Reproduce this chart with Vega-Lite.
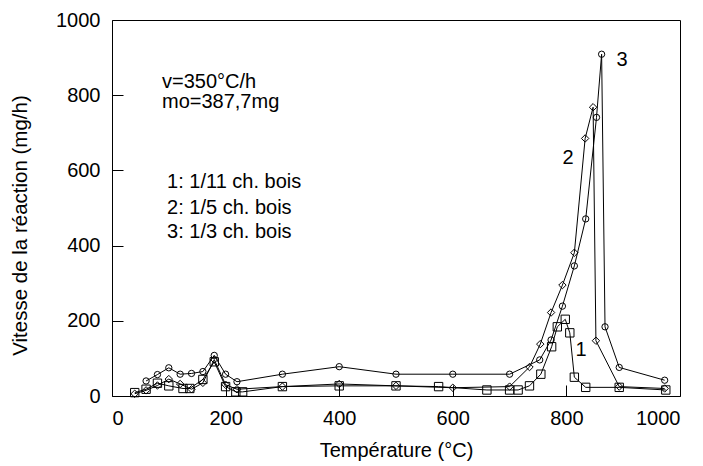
{
  "$schema": "https://vega.github.io/schema/vega-lite/v6.json",
  "width": 568,
  "height": 376,
  "autosize": {"type": "none"},
  "padding": {"left": 112, "top": 20, "right": 23, "bottom": 70},
  "background": "white",
  "config": {
    "font": "Liberation Sans",
    "view": {"stroke": "black", "strokeWidth": 1},
    "axis": {
      "grid": false,
      "domainColor": "black",
      "tickColor": "black",
      "labelColor": "black",
      "titleColor": "black",
      "labelFontSize": 20,
      "titleFontSize": 20,
      "titleFontWeight": "normal",
      "labelFont": "Liberation Sans",
      "titleFont": "Liberation Sans"
    }
  },
  "datasets": {
    "series": [
      {"courbe": "1", "t": 40, "v": 9},
      {"courbe": "1", "t": 60, "v": 18},
      {"courbe": "1", "t": 80, "v": 34},
      {"courbe": "1", "t": 100, "v": 27},
      {"courbe": "1", "t": 125, "v": 20},
      {"courbe": "1", "t": 137, "v": 20},
      {"courbe": "1", "t": 160, "v": 44},
      {"courbe": "1", "t": 180, "v": 91},
      {"courbe": "1", "t": 200, "v": 25},
      {"courbe": "1", "t": 218, "v": 11},
      {"courbe": "1", "t": 230, "v": 11},
      {"courbe": "1", "t": 300, "v": 25},
      {"courbe": "1", "t": 400, "v": 27},
      {"courbe": "1", "t": 500, "v": 27},
      {"courbe": "1", "t": 575, "v": 25},
      {"courbe": "1", "t": 660, "v": 16},
      {"courbe": "1", "t": 700, "v": 16},
      {"courbe": "1", "t": 715, "v": 16},
      {"courbe": "1", "t": 735, "v": 27},
      {"courbe": "1", "t": 755, "v": 58},
      {"courbe": "1", "t": 774, "v": 131},
      {"courbe": "1", "t": 784, "v": 184},
      {"courbe": "1", "t": 798, "v": 204},
      {"courbe": "1", "t": 806, "v": 168},
      {"courbe": "1", "t": 814, "v": 50},
      {"courbe": "1", "t": 834, "v": 23},
      {"courbe": "1", "t": 893, "v": 23},
      {"courbe": "1", "t": 975, "v": 16},
      {"courbe": "2", "t": 40, "v": 6},
      {"courbe": "2", "t": 60, "v": 15},
      {"courbe": "2", "t": 80, "v": 28},
      {"courbe": "2", "t": 100, "v": 45},
      {"courbe": "2", "t": 120, "v": 32},
      {"courbe": "2", "t": 140, "v": 18},
      {"courbe": "2", "t": 160, "v": 35},
      {"courbe": "2", "t": 180, "v": 97},
      {"courbe": "2", "t": 200, "v": 30},
      {"courbe": "2", "t": 220, "v": 18},
      {"courbe": "2", "t": 300, "v": 25},
      {"courbe": "2", "t": 400, "v": 32},
      {"courbe": "2", "t": 500, "v": 27},
      {"courbe": "2", "t": 600, "v": 22},
      {"courbe": "2", "t": 700, "v": 25},
      {"courbe": "2", "t": 735, "v": 77},
      {"courbe": "2", "t": 754, "v": 138},
      {"courbe": "2", "t": 773, "v": 222},
      {"courbe": "2", "t": 793, "v": 295},
      {"courbe": "2", "t": 814, "v": 381},
      {"courbe": "2", "t": 833, "v": 685},
      {"courbe": "2", "t": 847, "v": 768},
      {"courbe": "2", "t": 852, "v": 147},
      {"courbe": "2", "t": 893, "v": 25},
      {"courbe": "2", "t": 973, "v": 20},
      {"courbe": "3", "t": 60, "v": 40},
      {"courbe": "3", "t": 80, "v": 57},
      {"courbe": "3", "t": 100, "v": 75},
      {"courbe": "3", "t": 120, "v": 58},
      {"courbe": "3", "t": 140, "v": 60},
      {"courbe": "3", "t": 160, "v": 65},
      {"courbe": "3", "t": 180, "v": 108},
      {"courbe": "3", "t": 200, "v": 58},
      {"courbe": "3", "t": 220, "v": 38},
      {"courbe": "3", "t": 300, "v": 58},
      {"courbe": "3", "t": 400, "v": 78},
      {"courbe": "3", "t": 500, "v": 58},
      {"courbe": "3", "t": 600, "v": 58},
      {"courbe": "3", "t": 700, "v": 58},
      {"courbe": "3", "t": 753, "v": 96},
      {"courbe": "3", "t": 773, "v": 149},
      {"courbe": "3", "t": 793, "v": 239},
      {"courbe": "3", "t": 814, "v": 346},
      {"courbe": "3", "t": 834, "v": 471},
      {"courbe": "3", "t": 853, "v": 741},
      {"courbe": "3", "t": 862, "v": 909},
      {"courbe": "3", "t": 868, "v": 184},
      {"courbe": "3", "t": 893, "v": 76},
      {"courbe": "3", "t": 973, "v": 42}
    ],
    "notes": [
      {"t": 88, "v": 835, "texte": "v=350°C/h"},
      {"t": 88, "v": 782, "texte": "mo=387,7mg"},
      {"t": 97, "v": 569, "texte": "1: 1/11 ch. bois"},
      {"t": 97, "v": 500, "texte": "2: 1/5 ch. bois"},
      {"t": 97, "v": 436, "texte": "3: 1/3 ch. bois"},
      {"t": 816, "v": 122, "texte": "1"},
      {"t": 793, "v": 633, "texte": "2"},
      {"t": 888, "v": 894, "texte": "3"}
    ]
  },
  "resolve": {"axis": {"x": "independent", "y": "independent"}},
  "layer": [
    {
      "data": {"name": "series"},
      "mark": {"type": "line", "color": "black", "strokeWidth": 1},
      "encoding": {
        "x": {
          "field": "t",
          "type": "quantitative",
          "scale": {"domain": [0, 1000], "nice": false},
          "axis": {"orient": "bottom", "title": "Température (°C)", "values": [0, 200, 400, 600, 800, 1000], "format": "d", "ticks": false, "labelPadding": 12, "titlePadding": 12}
        },
        "y": {
          "field": "v",
          "type": "quantitative",
          "scale": {"domain": [0, 1000], "nice": false},
          "axis": {"orient": "left", "title": "Vitesse de la réaction (mg/h)", "values": [0, 200, 400, 600, 800, 1000], "format": "d", "ticks": false, "labelPadding": 12, "titleX": -92, "titleY": 205, "titleBaseline": "middle", "titleFontSize": 20.5}
        },
        "detail": {"field": "courbe"}
      }
    },
    {
      "data": {"name": "series"},
      "mark": {"type": "point", "filled": false, "color": "black", "strokeWidth": 1, "opacity": 1},
      "encoding": {
        "x": {
          "field": "t",
          "type": "quantitative",
          "axis": {"orient": "bottom", "offset": -11, "title": null, "labels": false, "domain": false, "ticks": true, "tickSize": 11, "tickWidth": 1, "values": [200, 400, 600, 800]}
        },
        "y": {
          "field": "v",
          "type": "quantitative",
          "axis": {"orient": "left", "offset": -11, "title": null, "labels": false, "domain": false, "ticks": true, "tickSize": 11, "tickWidth": 1, "values": [200, 400, 600, 800]}
        },
        "shape": {"field": "courbe", "type": "nominal", "scale": {"domain": ["1", "2", "3"], "range": ["square", "diamond", "circle"]}, "legend": null},
        "size": {"field": "courbe", "type": "ordinal", "scale": {"domain": ["1", "2", "3"], "range": [70, 40, 70]}, "legend": null}
      }
    },
    {
      "data": {"name": "notes"},
      "mark": {"type": "text", "align": "left", "baseline": "middle", "fontSize": 20, "font": "Liberation Sans", "color": "black"},
      "encoding": {
        "x": {"field": "t", "type": "quantitative", "axis": null},
        "y": {"field": "v", "type": "quantitative", "axis": null},
        "text": {"field": "texte"}
      }
    }
  ]
}
